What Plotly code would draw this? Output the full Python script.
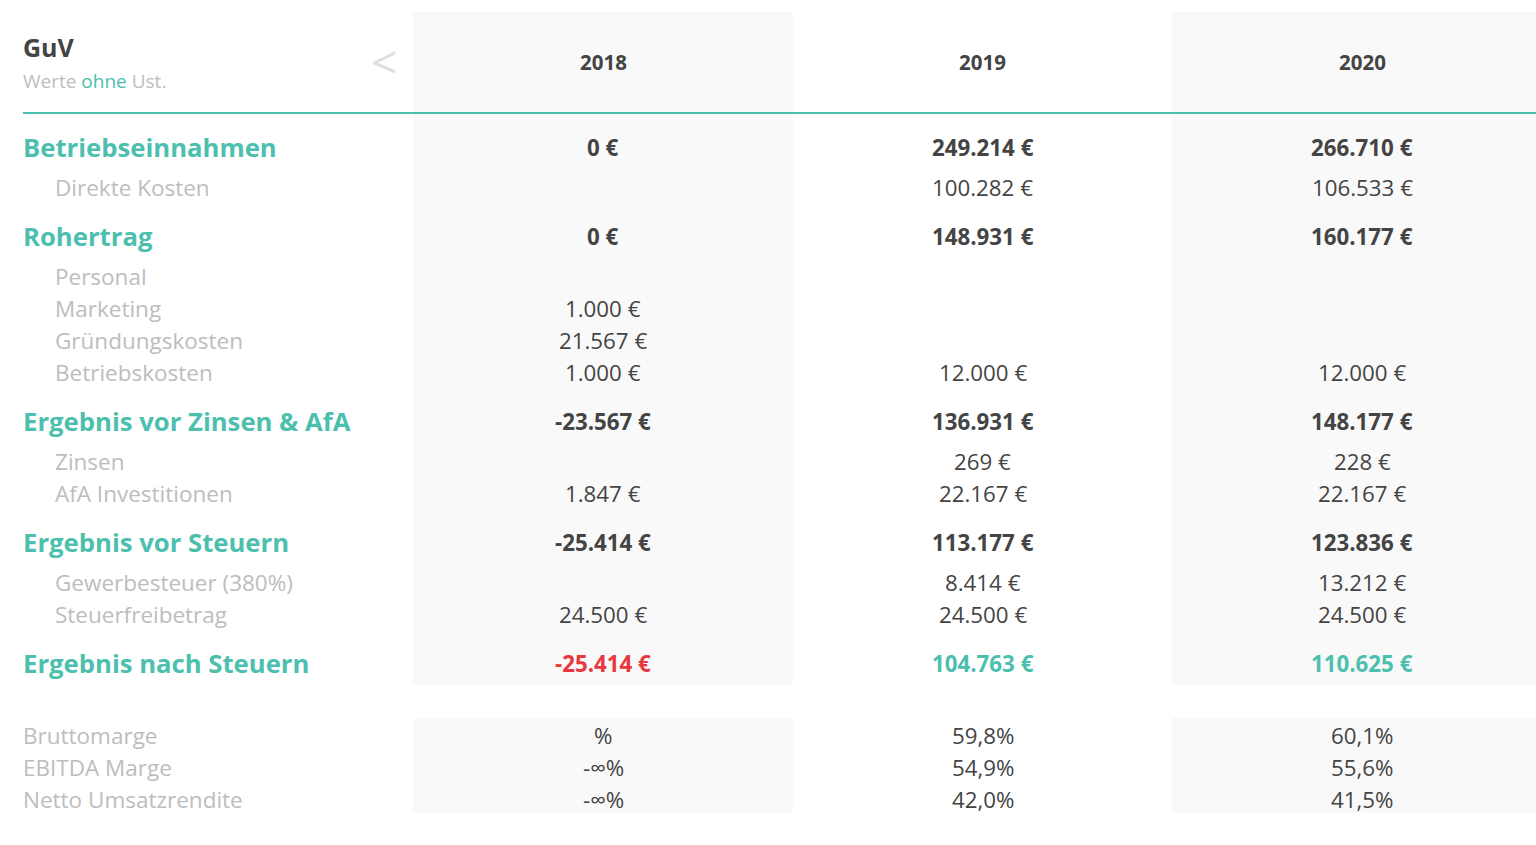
import plotly.graph_objects as go

# ---------------- data ----------------
years = ["2018", "2019", "2020"]
row_labels = ["Betriebseinnahmen", "Direkte Kosten", "Rohertrag", "Personal", "Marketing",
              "Gründungskosten", "Betriebskosten", "Ergebnis vor Zinsen & AfA", "Zinsen",
              "AfA Investitionen", "Ergebnis vor Steuern", "Gewerbesteuer (380%)",
              "Steuerfreibetrag", "Ergebnis nach Steuern"]
row_kinds = ["main", "sub", "main", "sub", "sub", "sub", "sub", "main", "sub", "sub",
             "main", "sub", "sub", "result"]
values_2018 = [0, None, 0, None, 1000, 21567, 1000, -23567, None, 1847, -25414, None, 24500, -25414]
values_2019 = [249214, 100282, 148931, None, None, None, 12000, 136931, 269, 22167, 113177, 8414, 24500, 104763]
values_2020 = [266710, 106533, 160177, None, None, None, 12000, 148177, 228, 22167, 123836, 13212, 24500, 110625]

margin_labels = ["Bruttomarge", "EBITDA Marge", "Netto Umsatzrendite"]
margins_2018 = [None, float("-inf"), float("-inf")]
margins_2019 = [59.8, 54.9, 42.0]
margins_2020 = [60.1, 55.6, 41.5]

# ---------------- styles ----------------
TEAL = "#4cbfae"
RED = "#e8383d"
DARK = "#444444"
LIGHT = "#bdbdbd"
BG = "#f9f9f9"
FONT = "Open Sans"

def fmt_eur(v):
    return f"{v:,}".replace(",", ".") + " €"

def fmt_pct(v):
    if v is None:
        return "%"
    if v == float("-inf"):
        return "-∞%"
    return f"{v:.1f}".replace(".", ",") + "%"

# row y positions (page-pixel units on reversed y axis)
ys = []
y = 147
prev = None
for k in row_kinds:
    if prev is not None:
        if k == "sub":
            y += 40 if prev != "sub" else 32
        else:
            y += 49
    ys.append(y)
    prev = k
m_ys = []
y = ys[-1] + 72
for i in range(len(margin_labels)):
    m_ys.append(y)
    y += 32

# body margin is removed via post_script, so plot starts at page (0,0)
OFF = 0
W, H = 1536 - OFF, 845 - OFF

COLW = 379.5
X0PX = 603
def px_to_x(px):
    return 1 + (px - X0PX) / COLW

label_x = px_to_x(21)
sub_x = px_to_x(53)

fig = go.Figure()
fig.add_trace(go.Scatter(x=[px_to_x(OFF), px_to_x(1536)], y=[OFF, 845], mode="markers",
                         marker=dict(opacity=0), hoverinfo="skip", showlegend=False))

shapes = []
for ci in (1, 3):
    shapes.append(dict(type="rect", xref="x", yref="y", x0=ci - 0.5, x1=ci + 0.5,
                       y0=12, y1=ys[-1] + 22, fillcolor=BG, line=dict(width=0), layer="below"))
    shapes.append(dict(type="rect", xref="x", yref="y", x0=ci - 0.5, x1=ci + 0.5,
                       y0=m_ys[0] - 17, y1=m_ys[-1] + 14, fillcolor=BG, line=dict(width=0), layer="below"))
shapes.append(dict(type="line", xref="x", yref="y", x0=px_to_x(23), x1=px_to_x(1540),
                   y0=113, y1=113, line=dict(color=TEAL, width=2)))

ann = []
ann.append(dict(x=label_x, y=47, text="<b>GuV</b>", xanchor="left", yanchor="middle",
                font=dict(family=FONT, size=25, color=DARK)))
ann.append(dict(x=label_x, y=81, text=f"Werte <span style='color:{TEAL}'>ohne</span> Ust.",
                xanchor="left", yanchor="middle", font=dict(family=FONT, size=19, color=LIGHT)))
ann.append(dict(x=px_to_x(384), y=61, text="<", xanchor="center", yanchor="middle",
                font=dict(family=FONT, size=46, color="#dedede")))
for i, yr in enumerate(years):
    ann.append(dict(x=i + 1, y=62, text=f"<b>{yr}</b>", xanchor="center", yanchor="middle",
                    font=dict(family=FONT, size=20.5, color=DARK)))

cols = [values_2018, values_2019, values_2020]
for r, (lab, kind, yy) in enumerate(zip(row_labels, row_kinds, ys)):
    if kind == "sub":
        ann.append(dict(x=sub_x, y=yy, text=lab, xanchor="left", yanchor="middle",
                        font=dict(family=FONT, size=22.5, color=LIGHT)))
    else:
        ann.append(dict(x=label_x, y=yy, text=f"<b>{lab}</b>", xanchor="left", yanchor="middle",
                        font=dict(family=FONT, size=25.7, color=TEAL)))
    for c, col in enumerate(cols):
        v = col[r]
        if v is None:
            continue
        if kind == "sub":
            txt, color = fmt_eur(v), DARK
        elif kind == "main":
            txt, color = f"<b>{fmt_eur(v)}</b>", DARK
        else:
            txt, color = f"<b>{fmt_eur(v)}</b>", (RED if v < 0 else TEAL)
        ann.append(dict(x=c + 1, y=yy, text=txt, xanchor="center", yanchor="middle",
                        font=dict(family=FONT, size=22.3, color=color)))

mcols = [margins_2018, margins_2019, margins_2020]
for r, (lab, yy) in enumerate(zip(margin_labels, m_ys)):
    ann.append(dict(x=label_x, y=yy, text=lab, xanchor="left", yanchor="middle",
                    font=dict(family=FONT, size=22.5, color=LIGHT)))
    for c, col in enumerate(mcols):
        ann.append(dict(x=c + 1, y=yy, text=fmt_pct(col[r]), xanchor="center", yanchor="middle",
                        font=dict(family=FONT, size=22.3, color=DARK)))

for a in ann:
    a.update(xref="x", yref="y", showarrow=False)

fig.update_layout(
    width=W, height=H,
    margin=dict(l=0, r=0, t=0, b=0),
    paper_bgcolor="white", plot_bgcolor="white",
    xaxis=dict(range=[px_to_x(OFF), px_to_x(1536)], visible=False, fixedrange=True),
    yaxis=dict(range=[845, OFF], visible=False, fixedrange=True),
    shapes=shapes, annotations=ann, showlegend=False,
)
fig.write_html("out.html", config={"displayModeBar": False},
               post_script="document.body.style.margin='0';document.body.style.overflow='hidden';")
